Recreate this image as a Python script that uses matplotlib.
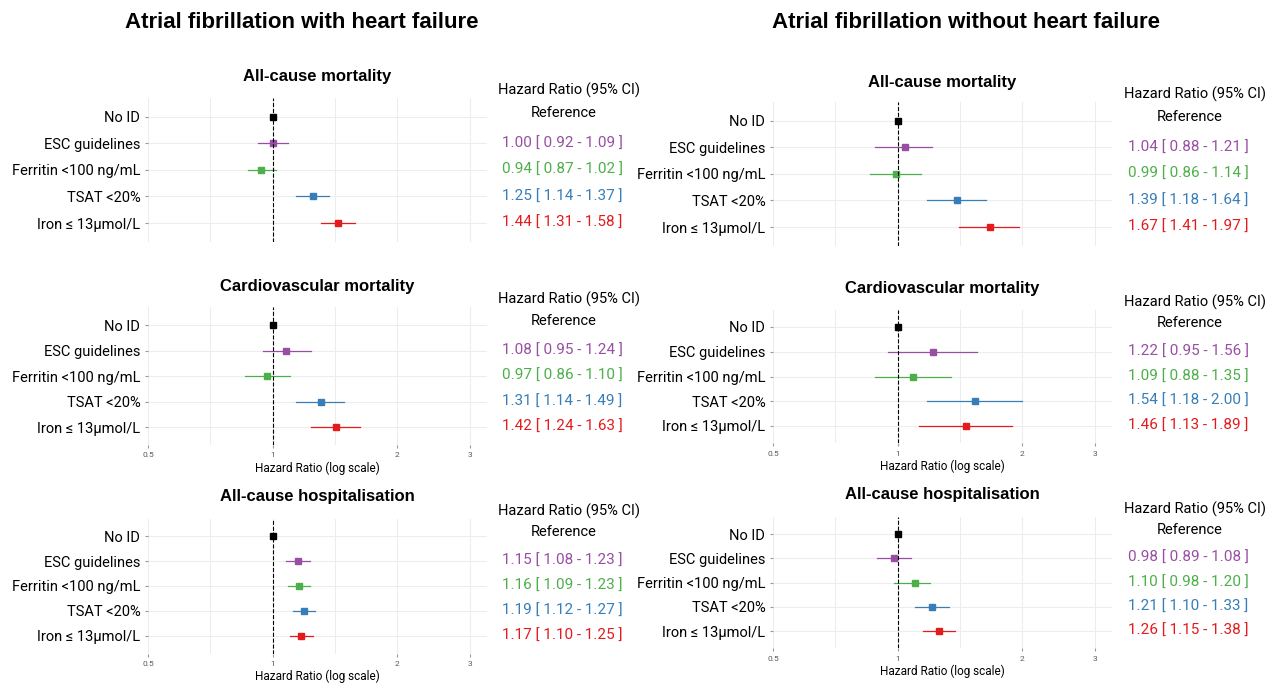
import numpy as np
import matplotlib
matplotlib.use('Agg')
import matplotlib.pyplot as plt
from matplotlib.transforms import blended_transform_factory

plt.rcParams['font.family'] = ['Roboto', 'DejaVu Sans']

W, H = 1280, 690

LABELS = ['No ID', 'ESC guidelines', 'Ferritin <100 ng/mL', 'TSAT <20%',
          'Iron \u2264 13\u00b5mol/L']
COLORS = ['black', '#984EA3', '#4DAF4A', '#377EB8', '#E41A1C']
OUTCOMES = ['All-cause mortality', 'Cardiovascular mortality',
            'All-cause hospitalisation']

# hazard ratios (estimate, lower, upper) for ESC, ferritin, TSAT, iron
HF_HR = [[1.00, 0.94, 1.25, 1.44], [1.08, 0.97, 1.31, 1.42],
         [1.15, 1.16, 1.19, 1.17]]
HF_LO = [[0.92, 0.87, 1.14, 1.31], [0.95, 0.86, 1.14, 1.24],
         [1.08, 1.09, 1.12, 1.10]]
HF_HI = [[1.09, 1.02, 1.37, 1.58], [1.24, 1.10, 1.49, 1.63],
         [1.23, 1.23, 1.27, 1.25]]
NOHF_HR = [[1.04, 0.99, 1.39, 1.67], [1.22, 1.09, 1.54, 1.46],
           [0.98, 1.10, 1.21, 1.26]]
NOHF_LO = [[0.88, 0.86, 1.18, 1.41], [0.95, 0.88, 1.18, 1.13],
           [0.89, 0.98, 1.10, 1.15]]
NOHF_HI = [[1.21, 1.14, 1.64, 1.97], [1.56, 1.35, 2.00, 1.89],
           [1.08, 1.20, 1.33, 1.38]]
XTICKS = [0.5, 1, 2, 3]

# layout in pixels: (first row y, last row y, title y), table x
LEFT = dict(x0=148, x1=487, table=562, rows=[(117, 223, 76), (325, 427, 287),
                                            (536, 636, 497)])
RIGHT = dict(x0=773, x1=1112, table=1188, rows=[(121, 227, 82), (327, 426, 289),
                                               (534, 631, 495)])
TITLE_FONT = ['Liberation Sans', 'DejaVu Sans']


def panel(fig, box, r1, r5, ty, tablex, title, hr, lo, hi, showx):
    x0, x1 = box
    s = (r5 - r1) / 4.0
    top, bot = r1 - 0.7 * s, r5 + 0.7 * s
    ax = fig.add_axes([x0 / W, 1 - bot / H, (x1 - x0) / W, (bot - top) / H])
    ys = np.arange(5, 0, -1)
    est = [1.0] + list(hr)
    los = [1.0] + list(lo)
    his = [1.0] + list(hi)
    for y, e, l, h, c in zip(ys, est, los, his, COLORS):
        ax.plot([l, h], [y, y], color=c, lw=0.9)
        ax.plot(e, y, 's', color=c, ms=5)
    ax.axvline(1, color='black', ls='--', lw=0.8)
    ax.set_xscale('log', base=2)
    ax.set_xlim(0.5, 3.3)
    ax.set_ylim(0.3, 5.7)
    ax.set_yticks(ys)
    ax.set_yticklabels(LABELS, fontsize=10.5)
    ax.set_xticks(XTICKS)
    ax.set_xticks([2 ** -0.5, 2 ** 0.5], minor=True)
    ax.set_xticklabels([str(t) for t in XTICKS], fontsize=6, color='0.35')
    ax.xaxis.set_minor_formatter(plt.NullFormatter())
    ax.tick_params(axis='both', length=2, color='0.6', which='both')
    ax.tick_params(axis='x', which='minor', length=0)
    ax.grid(True, which='both', color='0.93', lw=0.8)
    ax.set_axisbelow(True)
    for sp in ax.spines.values():
        sp.set_visible(False)
    if showx:
        ax.set_xlabel('Hazard Ratio (log scale)', fontsize=8.5, labelpad=2)
    else:
        ax.tick_params(axis='x', labelbottom=False, length=0)
    fig.text((x0 + x1) / 2 / W, 1 - ty / H, title, fontsize=12,
             weight='bold', ha='center', va='center', family=TITLE_FONT)
    # table of hazard ratios
    tr = blended_transform_factory(fig.transFigure, ax.transData)
    ax.text((tablex + 7) / W, 6.0, 'Hazard Ratio (95% CI)', transform=tr,
            ha='center', va='center', fontsize=10.5, clip_on=False)
    ax.text((tablex + 2) / W, 5.15, 'Reference', transform=tr,
            ha='center', va='center', fontsize=10.5, clip_on=False)
    for y, e, l, h, c in zip(ys[1:], hr, lo, hi, COLORS[1:]):
        ax.text(tablex / W, y, '%.2f [ %.2f - %.2f ]' % (e, l, h),
                transform=tr, ha='center', va='center', fontsize=11,
                color=c, clip_on=False)


fig = plt.figure(figsize=(12.8, 6.9), dpi=100)
fig.text(302 / W, 1 - 23 / H, 'Atrial fibrillation with heart failure',
         fontsize=16, weight='bold', ha='center', va='center',
         family=TITLE_FONT)
fig.text(966 / W, 1 - 23 / H, 'Atrial fibrillation without heart failure',
         fontsize=16, weight='bold', ha='center', va='center',
         family=TITLE_FONT)

for side, hrs, los, his in [(LEFT, HF_HR, HF_LO, HF_HI),
                            (RIGHT, NOHF_HR, NOHF_LO, NOHF_HI)]:
    for i, (r1, r5, ty) in enumerate(side['rows']):
        panel(fig, (side['x0'], side['x1']), r1, r5, ty, side['table'],
              OUTCOMES[i], hrs[i], los[i], his[i], i > 0)

fig.savefig('out.png', dpi=100)
